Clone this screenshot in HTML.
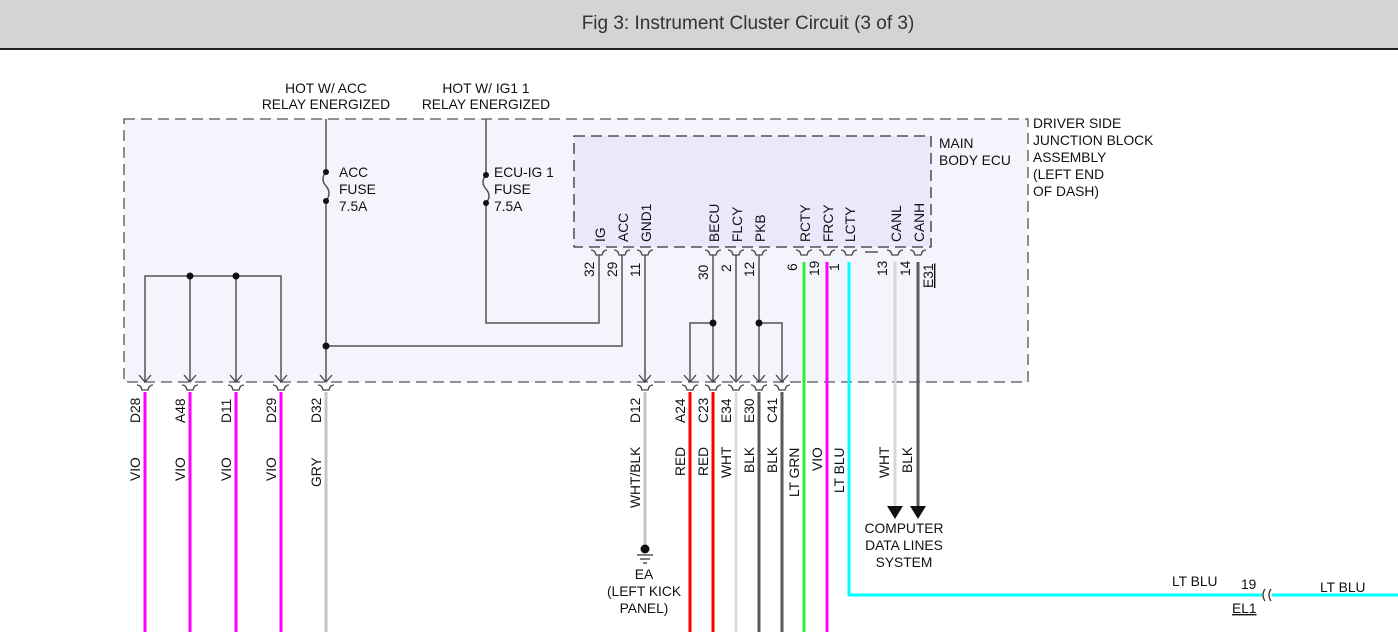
<!DOCTYPE html>
<html><head><meta charset="utf-8"><style>
html,body{margin:0;padding:0;background:#fff;}
svg{display:block;font-family:"Liberation Sans",Arial,sans-serif;}
text{font-size:13.8px;fill:#111;}
</style></head><body>
<svg width="1398" height="632" viewBox="0 0 1398 632" xmlns="http://www.w3.org/2000/svg">
<rect x="0" y="0" width="1398" height="48" fill="#d4d4d4"/>
<rect x="0" y="48" width="1398" height="2" fill="#222"/>
<text x="748" y="29" text-anchor="middle" style="font-size:19px;fill:#333">Fig 3: Instrument Cluster Circuit (3 of 3)</text>

<rect x="124" y="119" width="904" height="263" fill="#f4f4fd" stroke="#555" stroke-width="1.3" stroke-dasharray="11,6"/>
<rect x="574" y="136" width="357" height="111" fill="#e9e9fb" stroke="#333" stroke-width="1.3" stroke-dasharray="11,6"/>

<g>
<text x="326" y="93" text-anchor="middle">HOT W/ ACC</text>
<text x="326" y="109" text-anchor="middle">RELAY ENERGIZED</text>
<text x="486" y="93" text-anchor="middle">HOT W/ IG1 1</text>
<text x="486" y="109" text-anchor="middle">RELAY ENERGIZED</text>
<text x="1033" y="128">DRIVER SIDE</text>
<text x="1033" y="145">JUNCTION BLOCK</text>
<text x="1033" y="162">ASSEMBLY</text>
<text x="1033" y="179">(LEFT END</text>
<text x="1033" y="196">OF DASH)</text>
<text x="939" y="148">MAIN</text>
<text x="939" y="165">BODY ECU</text>
<text x="339" y="177">ACC</text>
<text x="339" y="194">FUSE</text>
<text x="339" y="211">7.5A</text>
<text x="494" y="177">ECU-IG 1</text>
<text x="494" y="194">FUSE</text>
<text x="494" y="211">7.5A</text>
</g>

<g stroke="#555" stroke-width="1.5" fill="none">
<path d="M326 119 V172 M326 201 V382"/>
<path d="M326 172 q-6 7 0 14 q6 7 0 15" />
<path d="M486 119 V175 M486 203 V323 H599 V255"/>
<path d="M486 175 q-6 7 0 14 q6 7 0 14"/>
<path d="M326 346 H622 V255"/>
<path d="M645 255 V382"/>
<path d="M713 255 V382 M690 382 V323 H713"/>
<path d="M736 255 V382"/>
<path d="M759 255 V382 M782 382 V323 H759"/>
<path d="M145 382 V276 H281 V382 M190 276 V382 M236 276 V382"/>
</g>
<g fill="#111">
<circle cx="326" cy="172" r="3"/><circle cx="326" cy="201" r="3"/>
<circle cx="486" cy="175" r="3"/><circle cx="486" cy="203" r="3"/>
<circle cx="326" cy="346" r="3.5"/>
<circle cx="713" cy="323" r="3.5"/><circle cx="759" cy="323" r="3.5"/>
<circle cx="190" cy="276" r="3.5"/><circle cx="236" cy="276" r="3.5"/>
</g>

<g fill="none" stroke-width="3">
<path d="M145 392 V632 M190 392 V632 M236 392 V632 M281 392 V632 M827 262 V632" stroke="#ff00ff"/>
<path d="M326 392 V632" stroke="#c4c4c4"/>
<path d="M645 392 V545" stroke="#c4c4c4"/>
<path d="M690 392 V632 M713 392 V632" stroke="#ff0000"/>
<path d="M736 392 V632" stroke="#dcdcdc"/>
<path d="M759 392 V632 M782 392 V632" stroke="#5a5a5a"/>
<path d="M804 262 V632" stroke="#33ee33"/>
<path d="M849 262 V595 H1262 M1272 595 H1398" stroke="#00ffff"/>
<path d="M895 262 V506" stroke="#d8d8d8"/>
<path d="M918 262 V506" stroke="#5a5a5a"/>
</g>
<path d="M865 252 H878" stroke="#555" stroke-width="1.5"/>
<path d="M887 506 h16 l-8 13 z M910 506 h16 l-8 13 z" fill="#111"/>

<circle cx="645" cy="549" r="4.5" fill="#111"/>
<path d="M637 555 h16 M640 559 h10 M643 563 h4" stroke="#333" stroke-width="1.3"/>

<g stroke="#444" stroke-width="1.3" fill="none">
<path id="b" d="M139 375 L145 382 L151 375 M137 385 q4 0 5 5 h6 q1 -5 5 -5"/>
<use href="#b" x="45"/><use href="#b" x="91"/><use href="#b" x="136"/><use href="#b" x="181"/>
<use href="#b" x="500"/><use href="#b" x="545"/><use href="#b" x="568"/><use href="#b" x="591"/><use href="#b" x="614"/><use href="#b" x="637"/>
<path id="t" d="M591 250 q4 0 5 5 h6 q1 -5 5 -5"/>
<use href="#t" x="23"/><use href="#t" x="46"/><use href="#t" x="114"/><use href="#t" x="137"/><use href="#t" x="160"/>
<use href="#t" x="205"/><use href="#t" x="228"/><use href="#t" x="250"/><use href="#t" x="296"/><use href="#t" x="319"/>
</g>

<g>
<text transform="translate(605,242) rotate(-90)">IG</text>
<text transform="translate(628,242) rotate(-90)">ACC</text>
<text transform="translate(651,242) rotate(-90)">GND1</text>
<text transform="translate(719,242) rotate(-90)">BECU</text>
<text transform="translate(742,242) rotate(-90)">FLCY</text>
<text transform="translate(765,242) rotate(-90)">PKB</text>
<text transform="translate(810,242) rotate(-90)">RCTY</text>
<text transform="translate(833,242) rotate(-90)">FRCY</text>
<text transform="translate(855,242) rotate(-90)">LCTY</text>
<text transform="translate(901,242) rotate(-90)">CANL</text>
<text transform="translate(924,242) rotate(-90)">CANH</text>
<text transform="translate(594,277) rotate(-90)">32</text>
<text transform="translate(617,277) rotate(-90)">29</text>
<text transform="translate(640,277) rotate(-90)">11</text>
<text transform="translate(708,280) rotate(-90)">30</text>
<text transform="translate(731,272) rotate(-90)">2</text>
<text transform="translate(754,277) rotate(-90)">12</text>
<text transform="translate(797,271) rotate(-90)">6</text>
<text transform="translate(819,276) rotate(-90)">19</text>
<text transform="translate(839,271) rotate(-90)">1</text>
<text transform="translate(887,276) rotate(-90)">13</text>
<text transform="translate(910,276) rotate(-90)">14</text>
<text transform="translate(933,288) rotate(-90)" text-decoration="underline">E31</text>
<text transform="translate(140,423) rotate(-90)">D28</text>
<text transform="translate(185,423) rotate(-90)">A48</text>
<text transform="translate(231,423) rotate(-90)">D11</text>
<text transform="translate(276,423) rotate(-90)">D29</text>
<text transform="translate(321,423) rotate(-90)">D32</text>
<text transform="translate(640,423) rotate(-90)">D12</text>
<text transform="translate(685,423) rotate(-90)">A24</text>
<text transform="translate(708,423) rotate(-90)">C23</text>
<text transform="translate(731,423) rotate(-90)">E34</text>
<text transform="translate(754,423) rotate(-90)">E30</text>
<text transform="translate(777,423) rotate(-90)">C41</text>
<text transform="translate(140,481) rotate(-90)">VIO</text>
<text transform="translate(185,481) rotate(-90)">VIO</text>
<text transform="translate(231,481) rotate(-90)">VIO</text>
<text transform="translate(276,481) rotate(-90)">VIO</text>
<text transform="translate(321,487) rotate(-90)">GRY</text>
<text transform="translate(640,508) rotate(-90)">WHT/BLK</text>
<text transform="translate(685,476) rotate(-90)">RED</text>
<text transform="translate(708,476) rotate(-90)">RED</text>
<text transform="translate(731,478) rotate(-90)">WHT</text>
<text transform="translate(754,473) rotate(-90)">BLK</text>
<text transform="translate(777,473) rotate(-90)">BLK</text>
<text transform="translate(799,497) rotate(-90)">LT GRN</text>
<text transform="translate(822,471) rotate(-90)">VIO</text>
<text transform="translate(844,493) rotate(-90)">LT BLU</text>
<text transform="translate(889,478) rotate(-90)">WHT</text>
<text transform="translate(912,473) rotate(-90)">BLK</text>
</g>

<g text-anchor="middle">
<text x="904" y="533">COMPUTER</text>
<text x="904" y="550">DATA LINES</text>
<text x="904" y="567">SYSTEM</text>
<text x="644" y="579">EA</text>
<text x="644" y="596">(LEFT KICK</text>
<text x="644" y="613">PANEL)</text>
</g>
<text x="1172" y="586">LT BLU</text>
<text x="1241" y="589">19</text>
<text x="1232" y="613" text-decoration="underline">EL1</text>
<text x="1320" y="592">LT BLU</text>
<path d="M1265 589 q-4 6 0 12 M1271 589 q-4 6 0 12" stroke="#333" stroke-width="1.3" fill="none"/>
</svg>
</body></html>
